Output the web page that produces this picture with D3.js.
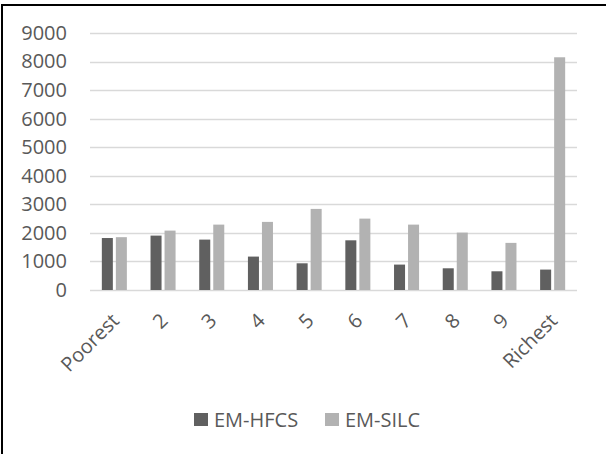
<!DOCTYPE html>
<html>
<head>
<meta charset="utf-8">
<script src="https://cdn.jsdelivr.net/npm/d3@7"></script>
<style>
  html, body { margin: 0; padding: 0; background: #ffffff; overflow: hidden; }
  svg { display: block; }
  text { font-family: "Open Sans", "Noto Sans", sans-serif; fill: #595959; }
</style>
</head>
<body>
<svg id="chart" width="606" height="454"></svg>
<script>
const categories = ["Poorest", "2", "3", "4", "5", "6", "7", "8", "9", "Richest"];
const seriesNames = ["EM-HFCS", "EM-SILC"];
const hfcsValues = [1820, 1905, 1765, 1170, 935, 1740, 890, 760, 655, 715];
const silcValues = [1850, 2080, 2290, 2385, 2840, 2500, 2290, 2010, 1650, 8150];
const yTicks = [0, 1000, 2000, 3000, 4000, 5000, 6000, 7000, 8000, 9000];
const seriesColors = ["#606060", "#b2b2b2"];

const FONT = '"Open Sans", "Noto Sans", sans-serif';
const FS = "20px";

const svg = d3.select("#chart");

// frame: only the left and top edges are inside the picture
const frame = d3.path();
frame.moveTo(2, 454);
frame.lineTo(2, 5);
frame.lineTo(606, 5);
svg.append("path")
  .attr("d", frame.toString())
  .attr("fill", "none").attr("stroke", "#000").attr("stroke-width", 2);

const plotLeft = 90, plotRight = 577, plotTop = 33, plotBottom = 290;

const y = d3.scaleLinear().domain([0, 9000]).range([plotBottom, plotTop]);
const x0 = d3.scaleBand().domain(categories).range([plotLeft, plotRight]).paddingInner(0.486).paddingOuter(0.243);
const x1 = d3.scaleBand().domain(seriesNames).range([0, x0.bandwidth()]).paddingInner(0.214);

// gridlines
svg.append("g").selectAll("line").data(yTicks).join("line")
  .attr("x1", plotLeft).attr("x2", plotRight)
  .attr("y1", d => Math.round(y(d)) + 0.5).attr("y2", d => Math.round(y(d)) + 0.5)
  .attr("stroke", "#d9d9d9").attr("stroke-width", 1.3);

// y axis labels
const yAxis = d3.axisLeft(y).tickValues(yTicks).tickSize(0).tickPadding(0).tickFormat(d3.format("d"));
const yg = svg.append("g").attr("transform", `translate(67,0)`).call(yAxis);
yg.select(".domain").remove();
yg.selectAll("text").attr("font-size", FS).attr("fill", "#595959").style("font-family", FONT);

// bars
const data = categories.map((c, i) => ({ cat: c, vals: [hfcsValues[i], silcValues[i]] }));
const groups = svg.append("g").selectAll("g").data(data).join("g")
  .attr("transform", d => `translate(${x0(d.cat)},0)`);
groups.selectAll("rect").data(d => d.vals.map((v, j) => ({ s: seriesNames[j], v, j })))
  .join("rect")
  .attr("x", d => x1(d.s))
  .attr("width", x1.bandwidth())
  .attr("y", d => y(d.v))
  .attr("height", d => y(0) - y(d.v))
  .attr("fill", d => seriesColors[d.j]);

// x axis labels
const xAxis = d3.axisBottom(x0).tickSize(0).tickPadding(0);
const xg = svg.append("g").attr("transform", `translate(0,${plotBottom})`).call(xAxis);
xg.select(".domain").remove();
xg.selectAll("text")
  .attr("font-size", FS).attr("fill", "#595959")
  .style("font-family", FONT)
  .attr("text-anchor", "end")
  .attr("dy", null)
  .attr("y", 0)
  .attr("transform", "translate(6,32) rotate(-45)");

// legend
const legendItems = [
  { name: seriesNames[0], color: seriesColors[0], x: 194 },
  { name: seriesNames[1], color: seriesColors[1], x: 325 }
];
const lg = svg.append("g").selectAll("g").data(legendItems).join("g")
  .attr("transform", d => `translate(${d.x},413)`);
lg.append("rect").attr("width", 14).attr("height", 13).attr("fill", d => d.color);
lg.append("text").attr("x", 20).attr("y", 13.5).attr("font-size", FS).text(d => d.name);
</script>
</body>
</html>
